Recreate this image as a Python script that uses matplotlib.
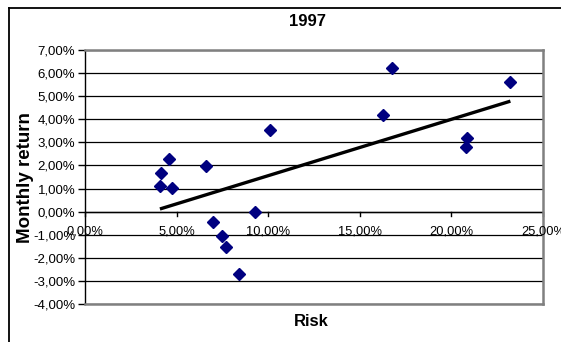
import numpy as np
import matplotlib
matplotlib.use("Agg")
import matplotlib.pyplot as plt
from matplotlib.ticker import FuncFormatter, MultipleLocator
from matplotlib.lines import Line2D

# Data (percent)
risk = [10.11, 4.59, 4.17, 6.62, 4.09, 4.77, 9.26, 7.00, 7.48, 7.70, 8.39,
        16.78, 16.27, 23.22, 20.87, 20.78]
monthly_return = [3.52, 2.27, 1.66, 1.98, 1.11, 1.03, 0.00, -0.43, -1.05, -1.53, -2.68,
                  6.21, 4.20, 5.60, 3.18, 2.80]
title = "1997"
xlabel = "Risk"
ylabel = "Monthly return"

plt.rcParams['font.family'] = ['Liberation Sans', 'DejaVu Sans']

fig = plt.figure(figsize=(5.61, 3.42), dpi=100)
W, H = 561, 342
ax = fig.add_axes([85 / W, 1 - 304 / H, (543 - 85) / W, (304 - 50) / H])

ax.set_xlim(0, 25)
ax.set_ylim(-4, 7)

# gridlines
ax.yaxis.set_major_locator(MultipleLocator(1))
ax.xaxis.set_major_locator(MultipleLocator(5))
ax.grid(axis='y', color='black', linewidth=0.9)
ax.set_axisbelow(True)

# data
ax.plot(risk, monthly_return, linestyle='none', marker='D', markersize=6.3,
        color='#000080', zorder=3)

# linear trend
xs = np.array(risk)
ys = np.array(monthly_return)
slope, intercept = np.polyfit(xs, ys, 1)
xt = np.array([xs.min(), xs.max()])
ax.plot(xt, slope * xt + intercept, color='black', linewidth=2.4, zorder=4,
        solid_capstyle='butt')

# spines
for s in ['top', 'right', 'bottom']:
    ax.spines[s].set_color('#808080')
    ax.spines[s].set_linewidth(1.8)
ax.spines['left'].set_color('black')
ax.spines['left'].set_linewidth(1.0)

# x-axis line at y=0
ax.axhline(0, color='black', linewidth=1.0, zorder=2)

fmt = FuncFormatter(lambda v, p: f"{v:.2f}%".replace('.', ','))
ax.xaxis.set_major_formatter(fmt)
ax.yaxis.set_major_formatter(fmt)

ax.tick_params(axis='y', direction='out', length=5, width=1, labelsize=9.5,
               colors='black', pad=2)
ax.tick_params(axis='x', bottom=False, labelbottom=False)

# x ticks and labels placed at y=0 (axis crosses at zero)
for xv in np.arange(0, 26, 5):
    ax.plot([xv, xv], [0, -0.17], color='black', linewidth=1.0, clip_on=False, zorder=2)
    ax.text(xv, -0.58, fmt(xv, None), ha='center', va='top', fontsize=9.3)

fig.text(307 / W, 1 - 22 / H, title, ha='center', va='center', fontsize=12,
         fontweight='bold')
fig.text(311 / W, 1 - 321 / H, xlabel, ha='center', va='center', fontsize=12,
         fontweight='bold')
fig.text(26 / W, 1 - 178 / H, ylabel, ha='center', va='center', fontsize=13.5,
         fontweight='bold', rotation=90)

# chart area border (partly cut off)
fig.add_artist(Line2D([8.5 / W, 8.5 / W], [0, 1 - 7.5 / H], color='black',
                      linewidth=1.3, transform=fig.transFigure))
fig.add_artist(Line2D([8.5 / W, 1], [1 - 7.5 / H, 1 - 7.5 / H], color='black',
                      linewidth=1.3, transform=fig.transFigure))

fig.savefig("out.png", dpi=100)
